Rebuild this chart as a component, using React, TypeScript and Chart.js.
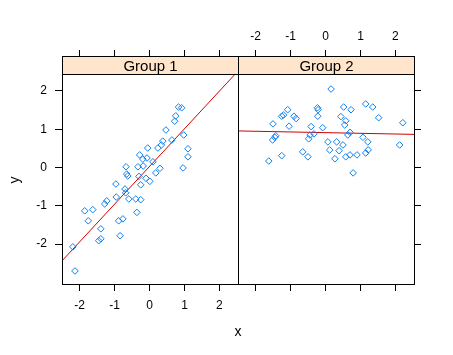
import React, { useEffect, useRef } from 'react';
import { Chart, registerables } from 'chart.js';
Chart.register(...registerables);

const panelNames = ['Group 1', 'Group 2'];
const group1X = [-2.19, -2.13, -1.85, -1.75, -1.62, -1.45, -1.39, -1.39, -1.28, -1.22, -0.96, -0.95, -0.88, -0.84, -0.76, -0.70, -0.68, -0.67, -0.65, -0.62, -0.59, -0.39, -0.36, -0.25, -0.33, -0.30, -0.28, -0.25, -0.19, -0.18, -0.10, -0.07, -0.05, 0.01, 0.10, 0.18, 0.24, 0.30, 0.34, 0.38, 0.47, 0.64, 0.72, 0.75, 0.83, 0.92, 0.96, 0.98, 1.10, 1.10];
const group1Y = [-2.07, -2.70, -1.13, -1.39, -1.10, -1.91, -1.86, -1.60, -0.95, -0.87, -0.43, -0.77, -1.39, -1.78, -1.34, -0.56, -0.66, 0.02, -0.17, -0.22, -0.82, -0.82, -1.17, -0.84, 0.02, -0.23, 0.33, -0.45, 0.22, 0.04, -0.28, 0.25, 0.51, -0.36, 0.15, -0.14, 0.51, -0.02, 0.59, 0.69, 0.98, 0.72, 1.21, 1.35, 1.58, 1.56, -0.01, 0.85, 0.49, 0.28];
const group2X = [-1.62, -1.51, -1.50, -1.45, -1.42, -1.25, -1.25, -1.20, -1.08, -1.04, -0.90, -0.84, -0.65, -0.50, -0.48, -0.44, -0.41, -0.33, -0.23, -0.21, -0.22, -0.08, 0.07, 0.12, 0.16, 0.27, 0.32, 0.39, 0.44, 0.50, 0.52, 0.55, 0.58, 0.58, 0.64, 0.70, 0.70, 0.73, 0.79, 0.90, 1.07, 1.15, 1.15, 1.21, 1.22, 1.35, 1.52, 2.12, 2.21];
const group2Y = [0.17, 0.72, 1.14, 0.79, 0.83, 0.31, 1.34, 1.37, 1.51, 1.08, 1.34, 1.28, 0.41, 0.28, 0.75, 0.85, 1.07, 0.88, 1.56, 1.51, 1.34, 1.04, 0.67, 0.46, 2.05, 0.23, 0.67, 0.44, 1.33, 0.59, 1.58, 1.11, 1.22, 0.28, 0.85, 0.92, 0.33, 1.51, -0.14, 0.33, 0.79, 1.66, 0.38, 0.67, 0.46, 1.58, 1.30, 0.59, 1.17];
const xTicks = [-2, -1, 0, 1, 2];
const yTicks = [-2, -1, 0, 1, 2];
const xRange = [-2.5, 2.53];
const yRange = [-3.04, 2.39];
const xTitle = 'x';
const yTitle = 'y';

const W = 453;
const H = 355;
const FONT = "'Liberation Sans', Arial, sans-serif";
const STRIP_H = 19;
const AREA_TOP = 57;
const AREA_BOTTOM = 284;
const P1_LEFT = 62;
const P_MID = 238;
const P2_RIGHT = 414;

function fit(xs: number[], ys: number[]) {
  const n = xs.length;
  const mx = xs.reduce((a, b) => a + b, 0) / n;
  const my = ys.reduce((a, b) => a + b, 0) / n;
  let sxy = 0, sxx = 0;
  for (let i = 0; i < n; i++) { sxy += (xs[i] - mx) * (ys[i] - my); sxx += (xs[i] - mx) ** 2; }
  const b = sxy / sxx;
  return { a: my - b * mx, b };
}

const dataH = AREA_BOTTOM - AREA_TOP - STRIP_H;
const pxPerY = dataH / (yRange[1] - yRange[0]);
const yMaxScale = yRange[1] + STRIP_H / pxPerY;

function makeConfig(idx: number, xs: number[], ys: number[]) {
  const { a, b } = fit(xs, ys);
  const lineData = [xRange[0], xRange[1]].map((x) => ({ x, y: a + b * x }));
  const first = idx === 0;
  const tickFont = { family: FONT, size: 12 };
  const setX = (s: any) => { s.ticks = xTicks.map((v) => ({ value: v })); };
  const setY = (s: any) => { s.ticks = yTicks.map((v) => ({ value: v })); };
  const gridCfg = { drawOnChartArea: false, drawTicks: true, tickLength: 7, color: '#000', lineWidth: 1 };
  const stripPlugin = {
    id: 'strip' + idx,
    afterDatasetsDraw(chart: any) {
      const { ctx, chartArea } = chart;
      const l = Math.round(chartArea.left), r = Math.round(chartArea.right);
      const t = Math.round(chartArea.top), bt = Math.round(chartArea.bottom);
      ctx.save();
      ctx.fillStyle = '#FFE5CC';
      ctx.fillRect(l, t - 1, r - l, STRIP_H);
      ctx.strokeStyle = '#000';
      ctx.lineWidth = 1;
      ctx.beginPath();
      // top, strip bottom, bottom
      ctx.moveTo(l, t - 0.5); ctx.lineTo(r + 1, t - 0.5);
      ctx.moveTo(l, t + STRIP_H - 1.5); ctx.lineTo(r + 1, t + STRIP_H - 1.5);
      ctx.moveTo(l, bt + 0.5); ctx.lineTo(r + 1, bt + 0.5);
      // left, right
      ctx.moveTo(l + 0.5, t - 1); ctx.lineTo(l + 0.5, bt + 1);
      ctx.moveTo(r + 0.5, t - 1); ctx.lineTo(r + 0.5, bt + 1);
      ctx.stroke();
      ctx.fillStyle = '#000';
      ctx.font = `15px ${FONT}`;
      ctx.textAlign = 'center';
      ctx.textBaseline = 'middle';
      ctx.fillText(panelNames[idx], (l + r) / 2 + 0.5, t + STRIP_H / 2);
      if (first) {
        ctx.font = `14px ${FONT}`;
        ctx.fillText(xTitle, P_MID, 332);
        ctx.save();
        ctx.translate(15, (AREA_TOP + STRIP_H + AREA_BOTTOM) / 2);
        ctx.rotate(-Math.PI / 2);
        ctx.fillText(yTitle, 0, 0);
        ctx.restore();
      }
      ctx.restore();
    },
  };
  return {
    type: 'scatter' as const,
    data: {
      datasets: [
        {
          data: xs.map((x, i) => ({ x, y: ys[i] })),
          pointStyle: 'rectRot',
          pointRadius: 3.3,
          pointBorderColor: '#1080f0',
          pointBackgroundColor: 'rgba(0,0,0,0)',
          pointBorderWidth: 1,
          showLine: false,
        },
        {
          type: 'line' as const,
          data: lineData,
          borderColor: '#d00000',
          borderWidth: 1,
          pointRadius: 0,
          fill: false,
        },
      ],
    },
    options: {
      animation: false,
      responsive: false,
      events: [],
      layout: { padding: first ? { left: 0, right: W - P_MID, top: 0, bottom: 0 } : { left: P_MID, right: 0, top: 0, bottom: 0 } },
      plugins: { legend: { display: false }, tooltip: { enabled: false } },
      scales: {
        x: {
          type: 'linear', position: 'bottom', axis: 'x', min: xRange[0], max: xRange[1],
          afterBuildTicks: setX,
          afterFit: (s: any) => { s.height = H - AREA_BOTTOM; },
          grid: gridCfg, border: { display: false },
          ticks: { color: '#000', font: tickFont, padding: 7, maxRotation: 0, autoSkip: false, callback: (v: any) => (first ? String(v) : '') },
        },
        x2: {
          type: 'linear', position: 'top', axis: 'x', min: xRange[0], max: xRange[1],
          afterBuildTicks: setX,
          afterFit: (s: any) => { s.height = AREA_TOP; },
          grid: gridCfg, border: { display: false },
          ticks: { color: '#000', font: tickFont, padding: 6, maxRotation: 0, autoSkip: false, callback: (v: any) => (first ? '' : String(v)) },
        },
        y: {
          type: 'linear', position: first ? 'left' : 'right', axis: 'y', min: yRange[0], max: yMaxScale,
          afterBuildTicks: setY,
          afterFit: (s: any) => { s.width = first ? P1_LEFT : W - P2_RIGHT; },
          grid: gridCfg, border: { display: false },
          ticks: { color: '#000', font: tickFont, padding: 8, autoSkip: false, callback: (v: any) => (first ? String(v) : '') },
        },
      },
    },
    plugins: [stripPlugin],
  };
}

export default function App() {
  const c1 = useRef<HTMLCanvasElement>(null);
  const c2 = useRef<HTMLCanvasElement>(null);
  useEffect(() => {
    const ch1 = new Chart(c1.current as HTMLCanvasElement, makeConfig(0, group1X, group1Y) as any);
    const ch2 = new Chart(c2.current as HTMLCanvasElement, makeConfig(1, group2X, group2Y) as any);
    return () => { ch1.destroy(); ch2.destroy(); };
  }, []);
  const cs: React.CSSProperties = { position: 'absolute', left: 0, top: 0, width: W, height: H };
  return (
    <div style={{ position: 'fixed', left: 0, top: 0, width: W, height: H, background: '#fff' }}>
      <canvas ref={c1} width={W} height={H} style={cs} />
      <canvas ref={c2} width={W} height={H} style={cs} />
    </div>
  );
}
